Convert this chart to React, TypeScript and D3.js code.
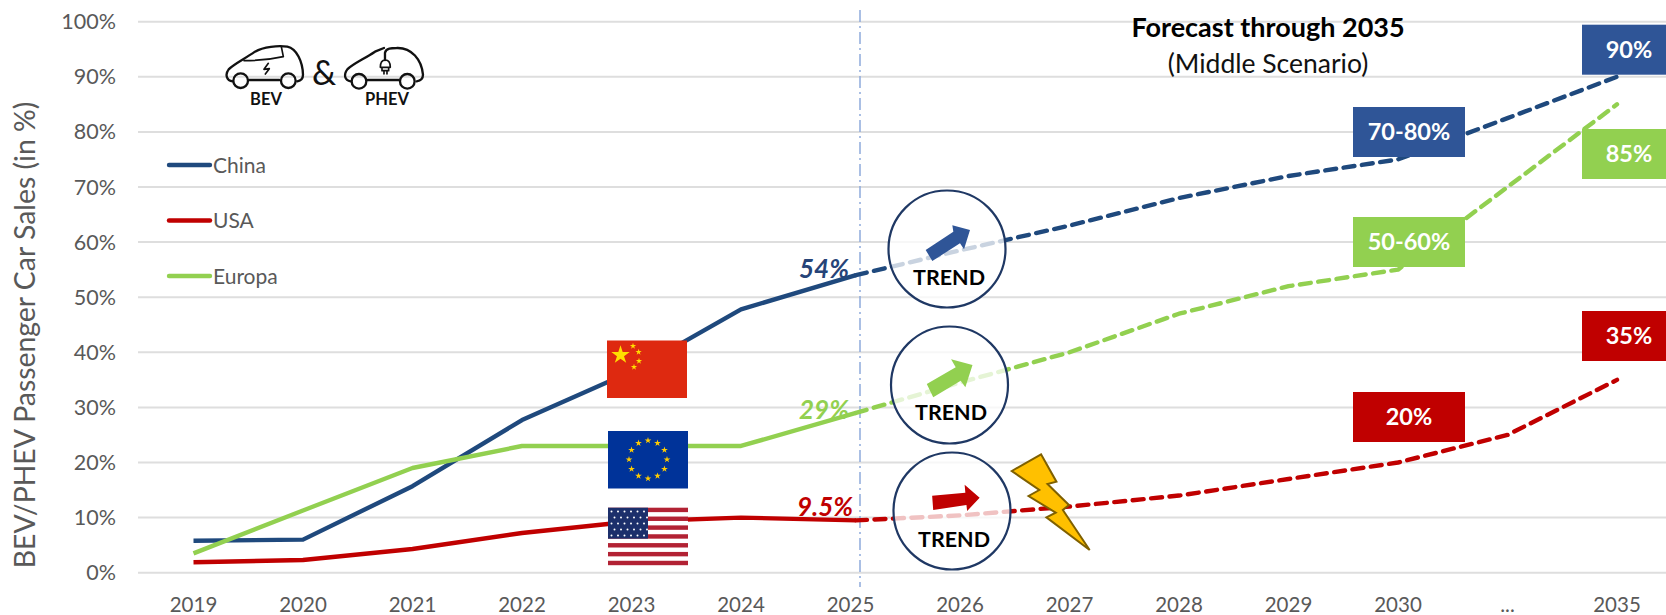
import React from "react";
import * as d3 from "d3";

const categories = ["2019","2020","2021","2022","2023","2024","2025","2026","2027","2028","2029","2030","...","2035"];
// Drawn slot of each category on the series axis (the source places 2025 a little right of its tick)
const seriesSlots = [0,1,2,3,4,5,6.05,7,8,9,10,11,12,13];
const china = [5.8,6,15.7,27.7,36.5,47.8,54,58.5,63,68,72,75,82.5,90];
const usa = [1.9,2.3,4.3,7.2,9.3,10,9.5,10.4,12,14,17,20,25,35];
const europa = [3.5,11.3,19,23,23,23,29,34.5,40,47,52,55,70,85];
const yTicks = [0,10,20,30,40,50,60,70,80,90,100];
const legendNames = ["China","USA","Europa"];
const lastActualIndex = 6;

const NAVY = "#1f497d", RED = "#c00000", GREEN = "#92d050", BOXBLUE = "#2f5597";
const FONT = "Lato, 'Open Sans', sans-serif";
const GREY = "#595959";

const x = d3.scaleLinear().domain([0, 13]).range([193.5, 1617]);
const y = d3.scaleLinear().domain([0, 100]).range([572.7, 21.7]);

const series = [
  { name: "China", values: china, color: NAVY },
  { name: "USA", values: usa, color: RED },
  { name: "Europa", values: europa, color: GREEN },
];

const solid = d3.line<number>().x((_, i) => x(seriesSlots[i])).y((d) => y(d)).curve(d3.curveLinear);
const dashed = d3.line<number>().x((_, i) => x(seriesSlots[i + lastActualIndex])).y((d) => y(d)).curve(d3.curveLinear);

const star = (size: number) => d3.symbol(d3.symbolStar, size)() as string;

function Box({ x0, y0, w, fill, text, cx }: any) {
  return (
    <g>
      <rect x={x0} y={y0} width={w} height={50} fill={fill} />
      <text x={cx ?? x0 + w / 2} y={y0 + 33} textAnchor="middle" fontFamily={FONT} fontWeight={700} fontSize={23.5} fill="#fff">{text}</text>
    </g>
  );
}

function Trend({ cx, cy }: any) {
  return <circle cx={cx} cy={cy} r={58.5} fill="#fff" fillOpacity={0.76} stroke="#1f3864" strokeWidth={2.2} />;
}

function pts(list: number[][], sx = 2.8, sy = 3, ox = 560, oy = 310) {
  return list.map(([a, b]) => `${a / sx + ox},${b / sy + oy}`).join(" ");
}

function Cars() {
  return (
    <g transform="translate(200,40) scale(0.3333)" fill="none" stroke="#111" strokeWidth={7} strokeLinecap="round" strokeLinejoin="round">
      <path d="M98,124 C80,122 74,104 86,88 C102,72 132,58 165,35 C190,20 235,16 262,20 C290,26 308,65 309,104 C309,116 302,122 292,124" />
      <path d="M146,120 H238" />
      <circle cx={122} cy={122} r={22} />
      <circle cx={265} cy={122} r={22} />
      <path d="M132,62 C170,62 215,58 250,50 L244,20" strokeWidth={5} />
      <path d="M205,70 L192,88 L208,86 L196,102" strokeWidth={5} />
      <path d="M452,124 C434,122 430,104 442,88 C458,72 490,58 525,35 L552,24" />
      <path d="M555,60 V38 C558,24 575,24 590,24 C635,22 665,60 669,104 C669,116 662,122 650,124" />
      <path d="M503,120 H596" />
      <circle cx={477} cy={124} r={22} />
      <circle cx={622} cy={124} r={22} />
      <path d="M541,82 C541,66 547,60 556,60 C565,60 571,66 571,82 Z M546,82 V92 H566 V82 M552,92 V102 M561,92 V102" strokeWidth={5} />
    </g>
  );
}

function ChinaFlag() {
  const small: number[][] = [[633, 346], [638.6, 352], [639, 361], [634, 367]];
  return (
    <g>
      <rect x={607} y={340.5} width={80} height={57.5} fill="#de2910" />
      <path d={star(105)} transform="translate(620.5,355)" fill="#ffde00" />
      {small.map(([a, b], i) => <path key={i} d={star(12)} transform={`translate(${a},${b})`} fill="#ffde00" />)}
    </g>
  );
}

function EuFlag() {
  const cx = 648, cy = 459.5;
  return (
    <g>
      <rect x={608} y={431} width={80} height={57.5} fill="#003399" />
      {d3.range(12).map((i) => {
        const a = (i * Math.PI) / 6;
        return <path key={i} d={star(14)} transform={`translate(${cx + 19 * Math.sin(a)},${cy - 19 * Math.cos(a)})`} fill="#ffcc00" />;
      })}
    </g>
  );
}

function UsFlag() {
  const h = 57.5 / 13;
  return (
    <g>
      <rect x={608} y={507.7} width={80} height={57.5} fill="#fff" />
      {d3.range(0, 13, 2).map((i) => <rect key={i} x={608} y={507.7 + i * h} width={80} height={h} fill="#b22234" />)}
      <rect x={608} y={507.7} width={40} height={h * 7} fill="#1c2f6b" />
      {d3.range(5).map((r) => d3.range(6).map((c) => (
        <circle key={`${r}-${c}`} cx={611.5 + c * 6.5 + (r % 2 ? 3 : 0)} cy={511.5 + r * 6} r={1} fill="#fff" />
      )))}
    </g>
  );
}

export default function App() {
  return (
    <svg width={1666} height={615} style={{ position: "absolute", left: 0, top: 0, background: "#fff" }}>
      {yTicks.map((t) => (
        <g key={t}>
          <line x1={138} x2={1666} y1={y(t)} y2={y(t)} stroke="#dedede" strokeWidth={2} />
          <text x={116} y={y(t) + 7.5} textAnchor="end" fontFamily={FONT} fontSize={21.5} fill={GREY}>{t}%</text>
        </g>
      ))}
      {categories.map((c, i) => (
        <text key={c} x={x(i)} y={612} textAnchor="middle" fontFamily={FONT} fontSize={20.5} fill={GREY}>{c}</text>
      ))}
      <text transform="translate(35,335) rotate(-90)" textAnchor="middle" fontFamily={FONT} fontSize={28.4} fill={GREY}>BEV/PHEV Passenger Car Sales (in %)</text>

      <line x1={860} x2={860} y1={10} y2={587} stroke="#8faadc" strokeWidth={1.5} strokeDasharray="12 4 2 4" />

      {series.map((s) => (
        <g key={s.name} fill="none" stroke={s.color} strokeWidth={4.4} strokeLinejoin="round">
          <path d={solid(s.values.slice(0, lastActualIndex + 1)) as string} />
          <path d={dashed(s.values.slice(lastActualIndex)) as string} strokeDasharray="11 7.5" strokeLinecap="round" />
        </g>
      ))}

      {legendNames.map((n, i) => {
        const s = series.find((e) => e.name === n)!;
        const ly = 165 + i * 55.5;
        return (
          <g key={n}>
            <line x1={169} x2={210} y1={ly} y2={ly} stroke={s.color} strokeWidth={4.4} strokeLinecap="round" />
            <text x={213} y={ly + 7.5} fontFamily={FONT} fontSize={21} fill={GREY}>{n}</text>
          </g>
        );
      })}

      <Cars />
      <text x={324} y={85} textAnchor="middle" fontFamily={FONT} fontSize={34} fill="#111">&amp;</text>
      <text x={266} y={105} textAnchor="middle" fontFamily={FONT} fontWeight={700} fontSize={16.5} fill="#111">BEV</text>
      <text x={387} y={105} textAnchor="middle" fontFamily={FONT} fontWeight={700} fontSize={16.5} fill="#111">PHEV</text>

      <ChinaFlag />
      <EuFlag />
      <UsFlag />

      <Trend cx={947} cy={249} />
      <Trend cx={949.5} cy={385} />
      <Trend cx={952} cy={511} />

      <polygon points={pts([[497,300],[580,245],[577,226],[630,240],[612,298],[600,280],[517,333]], 3, 3, 760, 150)} fill={BOXBLUE} />
      <polygon points={pts([[1027,222],[1108,172],[1095,148],[1155,165],[1135,232],[1122,212],[1045,262]])} fill={GREEN} />
      <polygon points={pts([[1042,557],[1135,548],[1133,524],[1175,563],[1140,603],[1138,585],[1045,600]])} fill={RED} />

      <text x={949} y={285} textAnchor="middle" fontFamily={FONT} fontWeight={700} fontSize={21.5} fill="#000">TREND</text>
      <text x={951} y={420} textAnchor="middle" fontFamily={FONT} fontWeight={700} fontSize={21.5} fill="#000">TREND</text>
      <text x={954} y={547} textAnchor="middle" fontFamily={FONT} fontWeight={700} fontSize={21.5} fill="#000">TREND</text>

      <polygon points={pts([[1265,483],[1347,433],[1390,515],[1365,522],[1425,585],[1408,600],[1483,720],[1362,622],[1388,608],[1312,558],[1342,540]])} fill="#ffc000" stroke="#7f6000" strokeWidth={2} strokeLinejoin="miter" />

      <text x={824} y={278} textAnchor="middle" fontFamily={FONT} fontStyle="italic" fontWeight={700} fontSize={26} fill="#264478">54%</text>
      <text x={824} y={419} textAnchor="middle" fontFamily={FONT} fontStyle="italic" fontWeight={700} fontSize={26} fill={GREEN}>29%</text>
      <text x={825} y={516} textAnchor="middle" fontFamily={FONT} fontStyle="italic" fontWeight={700} fontSize={26} fill={RED}>9.5%</text>

      <Box x0={1353} y0={107} w={112} fill={BOXBLUE} text="70-80%" />
      <Box x0={1353} y0={217} w={112} fill={GREEN} text="50-60%" />
      <Box x0={1353} y0={392} w={112} fill={RED} text="20%" />
      <Box x0={1582} y0={24.7} w={84} cx={1629} fill={BOXBLUE} text="90%" />
      <Box x0={1582} y0={129} w={84} cx={1629} fill={GREEN} text="85%" />
      <Box x0={1582} y0={311} w={84} cx={1629} fill={RED} text="35%" />

      <text x={1268} y={37} textAnchor="middle" fontFamily={FONT} fontWeight={700} fontSize={27} fill="#000">Forecast through 2035</text>
      <text x={1268} y={73} textAnchor="middle" fontFamily={FONT} fontSize={26.5} fill="#111">(Middle Scenario)</text>
    </svg>
  );
}
